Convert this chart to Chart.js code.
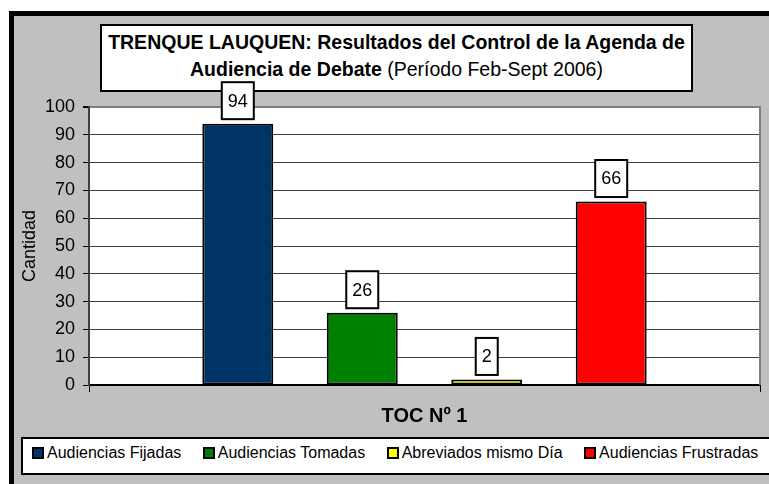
<!DOCTYPE html>
<html><head><meta charset="utf-8">
<script src="https://cdn.jsdelivr.net/npm/chart.js@4.4.0/dist/chart.umd.min.js"></script>
<style>
html,body{margin:0;padding:0;background:#fff;width:769px;height:484px;overflow:hidden;font-family:Arial,"Liberation Sans",sans-serif;color:#000;}
#frame{position:absolute;left:9px;top:11px;right:0;bottom:0;background:#c0c0c0;border-top:5px solid #000;border-left:5px solid #000;}
#title{position:absolute;left:100px;top:24px;width:593px;height:68px;box-sizing:border-box;border:2px solid #000;background:#fff;text-align:center;font-size:19.5px;line-height:27px;padding-top:3px;white-space:nowrap;}
#legend{position:absolute;left:21px;top:437px;width:760px;height:38px;box-sizing:border-box;border:2px solid #000;background:#fff;display:flex;align-items:center;padding-left:9px;padding-bottom:6px;font-size:16px;white-space:nowrap;}
.it{display:flex;align-items:center;margin-right:21.5px;}
.sw{width:12px;height:12px;box-sizing:border-box;border:2px solid #000;margin-right:3px;}
#c{position:absolute;left:0;top:0;}
</style></head><body>
<div id="frame"></div>
<div id="title"><b>TRENQUE LAUQUEN: Resultados del Control de la Agenda de<br>Audiencia de Debate</b> (Período Feb-Sept 2006)</div>
<div id="legend"></div>
<canvas id="c" width="769" height="484"></canvas>
<script>
const categories = ['TOC Nº 1'];
const seriesNames = ['Audiencias Fijadas', 'Audiencias Tomadas', 'Abreviados mismo Día', 'Audiencias Frustradas'];
const fijadas = [94];
const tomadas = [26];
const abreviados = [2];
const frustradas = [66];
const seriesColors = ['#003366', '#008000', '#FFFF00', '#FF0000'];
const yTickValues = [0, 10, 20, 30, 40, 50, 60, 70, 80, 90, 100];
const yAxisTitle = 'Cantidad';

const seriesValues = [fijadas, tomadas, abreviados, frustradas];
const FONT = 'Arial, "Liberation Sans", sans-serif';

// HTML legend built from the series arrays
const legendEl = document.getElementById('legend');
seriesNames.forEach((n, i) => {
  const it = document.createElement('div'); it.className = 'it';
  const sw = document.createElement('div'); sw.className = 'sw'; sw.style.background = seriesColors[i];
  const tx = document.createElement('span'); tx.textContent = n;
  it.appendChild(sw); it.appendChild(tx); legendEl.appendChild(it);
});

const bgPlugin = {
  id: 'bg',
  beforeDraw(chart) {
    const {ctx, chartArea: a} = chart;
    ctx.save();
    ctx.fillStyle = '#fff';
    ctx.fillRect(a.left, a.top, a.right - a.left, a.bottom - a.top);
    ctx.restore();
  },
  afterDraw(chart) {
    const {ctx, chartArea: a} = chart;
    ctx.save();
    ctx.fillStyle = '#808080';
    ctx.fillRect(a.right - 1, a.top - 1, 2, a.bottom - a.top + 1);
    ctx.restore();
  }
};

const labelPlugin = {
  id: 'vlabels',
  afterDatasetsDraw(chart) {
    const ctx = chart.ctx;
    ctx.save();
    ctx.font = '18px ' + FONT;
    ctx.textAlign = 'center';
    ctx.textBaseline = 'middle';
    chart.data.datasets.forEach((ds, i) => {
      const meta = chart.getDatasetMeta(i);
      meta.data.forEach((bar, j) => {
        const txt = String(ds.data[j]);
        const w = Math.round(ctx.measureText(txt).width + 12);
        const h = 37;
        const bottom = bar.y - 4.5;
        const top = bottom - h;
        const left = bar.x - w / 2;
        ctx.fillStyle = '#fff';
        ctx.fillRect(left, top, w, h);
        ctx.strokeStyle = '#000';
        ctx.lineWidth = 2;
        ctx.strokeRect(left, top, w, h);
        ctx.fillStyle = '#000';
        ctx.fillText(txt, bar.x, top + h / 2 + 1);
      });
    });
    ctx.restore();
  }
};

new Chart(document.getElementById('c'), {
  type: 'bar',
  data: {
    labels: categories,
    datasets: seriesNames.map((n, i) => ({
      label: n,
      data: seriesValues[i],
      backgroundColor: seriesColors[i],
      borderColor: '#000',
      borderWidth: 2,
      borderSkipped: false,
      categoryPercentage: 0.742,
      barPercentage: 0.57
    }))
  },
  options: {
    responsive: false,
    animation: false,
    devicePixelRatio: 1,
    layout: {padding: {left: 14, right: 9, top: 107, bottom: 54}},
    plugins: {legend: {display: false}, title: {display: false}, tooltip: {enabled: false}},
    scales: {
      x: {
        grid: {drawOnChartArea: false, color: '#000', tickLength: 7, lineWidth: 1},
        border: {color: '#000', width: 2},
        ticks: {color: '#000', font: {family: FONT, size: 20, weight: 'bold'}, padding: 12},
        afterFit(s) { s.height = 45; }
      },
      y: {
        min: 0, max: 100,
        afterBuildTicks(s) { s.ticks = yTickValues.map(v => ({value: v})); },
        ticks: {color: '#000', font: {family: FONT, size: 18}, padding: 8},
        grid: {
          color: c => (c.tick && c.tick.value === 100) ? '#808080' : '#404040',
          lineWidth: c => (c.tick && c.tick.value === 100) ? 2 : 1,
          tickLength: 6,
          tickColor: '#000'
        },
        border: {color: '#404040', width: 2},
        title: {display: true, text: yAxisTitle, color: '#000', font: {family: FONT, size: 18}, padding: {top: 5, bottom: 0}},
        afterFit(s) { s.width = 75; }
      }
    }
  },
  plugins: [bgPlugin, labelPlugin]
});
</script>
</body></html>
